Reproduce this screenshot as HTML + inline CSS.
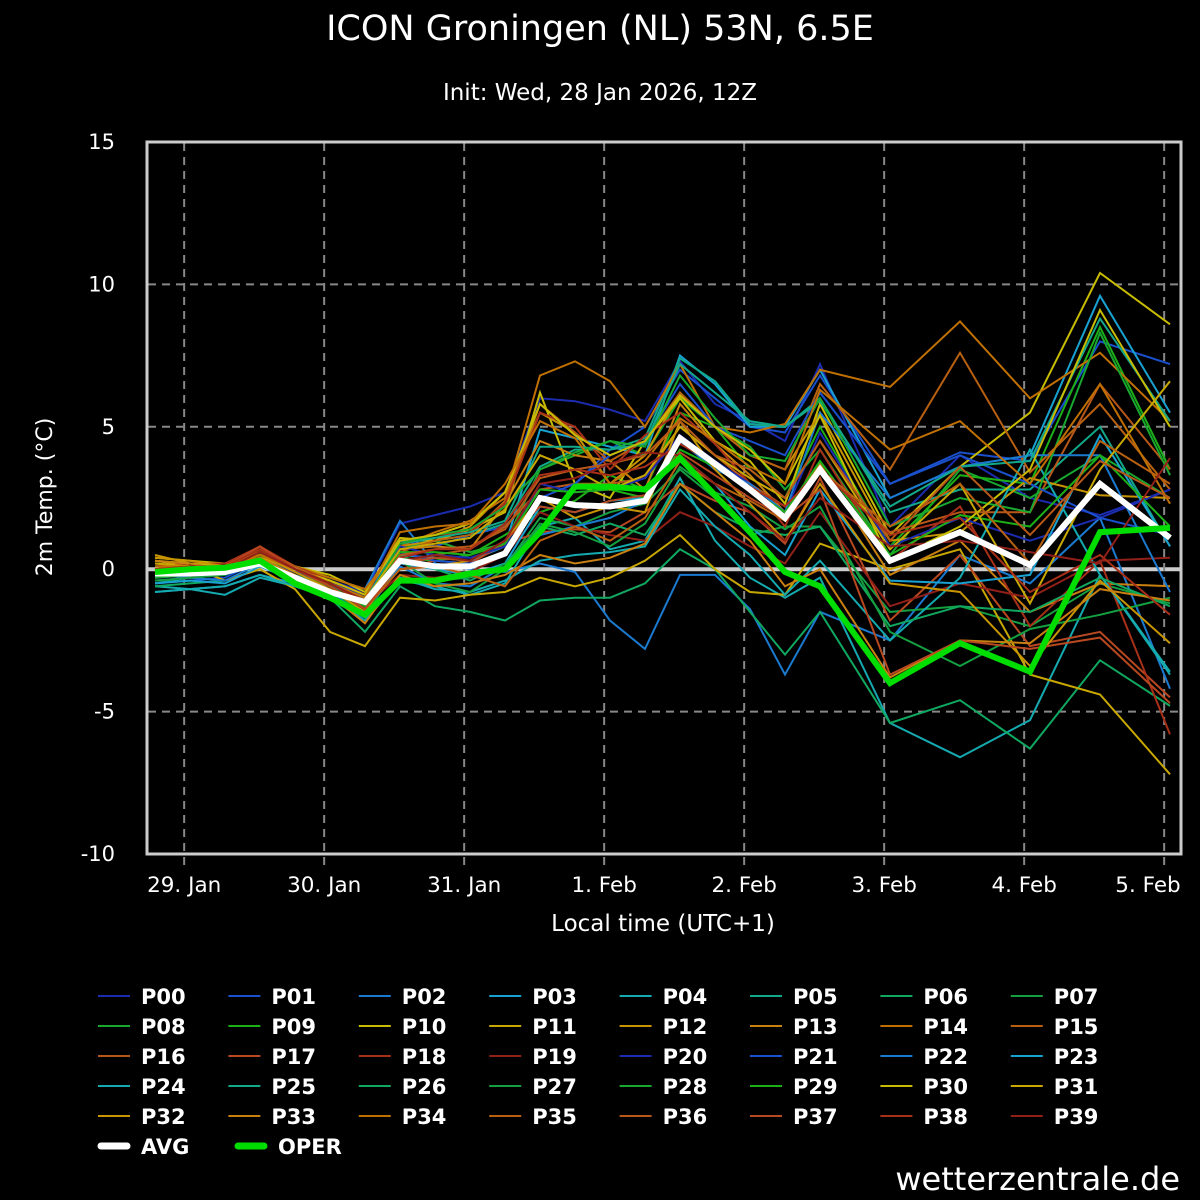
<!DOCTYPE html>
<html><head><meta charset="utf-8"><style>
html,body{margin:0;padding:0;background:#000;}
svg{display:block;font-family:"DejaVu Sans","Liberation Sans",sans-serif;}
</style></head><body>
<svg id="chart" width="1200" height="1200" viewBox="0 0 1200 1200">
<rect x="0" y="0" width="1200" height="1200" fill="#000"/>
<text x="600" y="40" fill="#fff" font-size="35" text-anchor="middle">ICON Groningen (NL) 53N, 6.5E</text>
<text x="600" y="100" fill="#fff" font-size="23" text-anchor="middle">Init: Wed, 28 Jan 2026, 12Z</text>
<text x="663" y="931" fill="#fff" font-size="23" text-anchor="middle">Local time (UTC+1)</text>
<text transform="translate(52,497) rotate(-90)" fill="#fff" font-size="22" text-anchor="middle">2m Temp. (°C)</text>
<text x="1180" y="1190" fill="#fff" font-size="32" text-anchor="end">wetterzentrale.de</text>
<g id="grid"></g>
<g id="series"></g>
<rect x="147" y="142" width="1034" height="712" fill="none" stroke="#ccc" stroke-width="3"/>
<g id="legend"></g>
</svg>
<script>
const hours=[0,6,12,18,24,30,36,42,48,54,60,66,72,78,84,90,96,102,108,114,126,138,150,162,174];
const yTicks=[15,10,5,0,-5,-10];
const xTickLabels=["29. Jan","30. Jan","31. Jan","1. Feb","2. Feb","3. Feb","4. Feb","5. Feb"];
const xTickHours=[5,29,53,77,101,125,149,173];
const avgValues=[-0.15,-0.15,-0.1,0.2,-0.3,-0.8,-1.15,0.3,0.1,0.1,0.55,2.5,2.25,2.2,2.4,4.6,3.7,2.8,1.8,3.5,0.3,1.3,0.15,3.0,1.1];
const operValues=[-0.1,0,0.05,0.3,-0.5,-1.0,-1.6,-0.4,-0.4,-0.15,0,1.3,2.9,2.9,2.8,3.9,2.6,1.3,-0.1,-0.6,-4.0,-2.6,-3.6,1.3,1.45];
const members=[
[-0.3,-0.2,-0.2,0.4,0,-0.4,-0.8,1.6,1.9,2.2,2.7,6.0,5.9,5.6,5.2,7.3,5.8,5.2,4.5,7.2,1.5,4.0,2.5,1.9,2.8],
[-0.5,-0.4,-0.3,0.3,-0.2,-0.6,-1.0,1.0,0.8,1.2,1.5,2.8,3.0,4.2,5.0,7.0,6.0,5.0,4.8,6.8,3.0,4.1,3.8,8.0,7.2],
[-0.2,-0.1,0,0.5,0.1,-0.3,-0.7,1.7,0.2,0.0,-0.1,0.2,-0.1,-1.8,-2.8,-0.2,-0.2,-1.4,-3.7,-1.5,-2.5,0.5,-0.5,1.8,-4.2],
[-0.8,-0.7,-0.6,-0.2,-0.5,-0.8,-1.5,0.5,0.4,0.3,0.8,4.9,4.6,4.3,4.0,7.5,6.5,5.0,5.0,7.0,2.5,3.6,4.0,9.6,5.5],
[-0.6,-0.7,-0.9,-0.3,-0.6,-1.0,-1.8,-0.4,-0.6,-0.9,-0.5,1.5,1.8,0.7,1.0,3.2,1.0,-0.3,-1.0,-0.3,-5.4,-6.6,-5.3,-0.2,-3.7],
[-0.5,-0.3,-0.2,0.4,0.0,-0.4,-0.9,1.0,1.0,1.2,1.6,3.6,4.2,4.2,4.6,7.4,6.6,5.1,5.0,6.0,2.0,2.8,2.8,5.0,0.8],
[-0.6,-0.5,-0.4,0.2,-0.3,-1.0,-2.2,-0.6,-1.3,-1.5,-1.8,-1.1,-1.0,-1.0,-0.5,0.7,0,-1.5,-3.0,-1.5,-5.4,-4.6,-6.3,-3.2,-4.8],
[-0.4,-0.3,-0.2,0.3,-0.3,-0.8,-1.6,-0.3,-0.4,-0.3,0.1,1.8,1.5,2.0,2.3,3.5,2.5,1.2,1.5,1.5,-1.5,-1.3,-2.0,-0.5,-1.2],
[-0.2,0,0,0.5,0,-0.5,-1.2,0.7,1.0,0.6,0.9,3.5,4.0,4.5,4.0,6.0,5.0,4.3,2.8,4.2,0.5,3.5,2.5,4.0,2.5],
[-0.3,-0.1,0,0.4,-0.1,-0.6,-1.4,0.4,0.3,0.5,1.2,2.0,2.4,3.3,2.8,5.5,5.0,3.5,2.5,5.0,0.8,3.3,3.0,8.5,3.5],
[0.4,0.3,0.2,0.5,0.1,-0.2,-0.8,1.1,1.0,1.4,2.0,6.2,3.0,2.5,4.5,6.0,4.5,3.8,2.3,5.8,1.2,3.6,5.5,10.4,8.6],
[0.3,0.1,-0.4,0.0,-0.7,-2.2,-2.7,-1.0,-1.1,-0.9,-0.8,-0.3,-0.6,-0.3,0.3,1.2,0,-0.8,-0.9,0.9,0.0,0.7,-3.7,-4.4,-7.2],
[0.5,0.2,0.1,0.5,0.0,-0.4,-1.0,0.8,1.0,1.5,2.7,5.5,4.8,3.0,4.0,6.2,5.0,4.0,3.5,5.5,1.0,1.3,3.2,2.6,2.5],
[0.0,0.2,0.2,0.6,0.0,-0.4,-0.9,0.7,0.8,0.7,2.3,4.5,4.0,3.8,2.8,5.8,4.4,3.3,2.0,3.7,-0.2,1.0,-1.5,-0.5,-0.6],
[0.2,0.1,0.1,0.6,0.1,-0.3,-0.7,0.8,1.3,1.7,2.5,6.8,7.3,6.6,5.0,7.2,5.0,4.8,5.1,7.0,6.4,8.7,6.0,7.6,5.2],
[-0.1,0.0,0.1,0.7,0.1,-0.4,-0.9,0.6,1.0,1.2,2.4,5.8,4.8,3.8,4.5,6.2,5.0,4.0,3.5,6.5,3.5,7.6,3.4,5.8,2.8],
[0.0,0.1,0.0,0.6,0.0,-0.6,-1.3,0.2,0.5,0.7,1.5,2.8,3.0,3.0,3.2,5.0,4.0,3.0,2.2,3.5,1.3,2.0,2.0,6.5,3.5],
[-0.2,-0.1,0.1,0.8,0.0,-0.5,-1.1,0.0,0.3,0.2,0.9,1.3,1.4,1.3,2.0,3.0,2.4,2.0,0.9,3.2,-1.8,0.5,-2.7,-2.2,-4.5],
[0.1,0.2,0.2,0.8,0.1,-0.4,-0.9,1.0,1.2,1.3,2.3,5.5,5.0,3.5,4.7,5.5,4.4,3.0,1.5,4.2,0.3,2.2,-2.0,0.3,-5.8],
[-0.1,-0.1,0.0,0.6,0.0,-0.6,-1.3,-0.2,-0.3,-0.1,0.5,2.0,1.5,1.2,1.0,2.0,1.5,0.8,0.2,2.0,-1.3,-0.5,-1.0,0.3,0.4],
[-0.4,-0.3,-0.2,0.3,-0.1,-0.5,-0.9,0.8,0.5,0.4,0.8,3.0,2.7,2.8,3.2,4.7,3.8,3.0,2.0,4.8,0.8,1.8,1.0,1.8,2.8],
[-0.3,-0.2,-0.1,0.4,0.0,-0.5,-1.0,0.6,0.3,0.2,0.5,2.5,3.0,4.0,4.5,6.5,5.0,4.5,4.0,6.2,3.0,4.0,3.0,1.8,1.2],
[-0.2,-0.3,-0.4,0.2,-0.3,-0.8,-1.5,0.1,-0.5,-0.6,0.1,1.2,1.5,1.8,2.4,4.5,3.5,3.0,2.0,5.5,2.5,3.6,4.0,4.0,-0.8],
[-0.5,-0.4,-0.5,0.1,-0.4,-0.9,-1.6,0.2,0.0,-0.2,0.2,2.2,2.0,2.4,2.5,4.0,3.0,1.5,0.5,2.8,-0.4,-0.5,-0.2,4.7,0.8],
[-0.8,-0.7,-0.6,-0.2,-0.6,-1.0,-1.7,-0.3,-0.7,-0.8,-0.4,0.3,0.5,0.6,0.8,2.8,1.5,0.5,-0.9,0.3,-2.5,-0.3,4.2,-0.2,-3.6],
[-0.3,-0.2,-0.1,0.4,0.0,-0.5,-1.1,0.9,1.1,1.3,1.7,4.3,4.3,4.2,4.4,7.2,6.2,5.2,5.0,5.9,2.2,3.6,3.8,8.8,5.2],
[-0.2,-0.1,0.0,0.5,0.0,-0.6,-1.4,0.5,0.0,-0.4,0.2,1.5,1.2,1.6,1.2,3.0,2.0,1.4,1.2,1.5,-2.0,-1.3,-1.5,-0.3,-1.3],
[-0.4,-0.3,-0.2,0.3,-0.2,-0.7,-1.6,0.3,-0.5,-0.8,0.0,1.6,1.3,0.8,1.6,3.6,2.7,2.2,1.4,2.2,-2.2,-3.4,-2.1,-1.6,-1.0],
[-0.3,-0.2,0.0,0.5,0.0,-0.5,-1.2,0.9,1.2,1.4,2.2,3.5,4.1,4.5,4.3,6.8,5.3,4.0,3.8,6.0,1.5,2.5,2.0,8.3,3.3],
[-0.2,-0.1,0.0,0.5,0.0,-0.6,-1.3,0.6,0.6,0.5,0.9,2.8,2.7,2.8,2.5,4.2,3.6,2.8,2.0,3.8,0.5,1.9,1.5,4.0,1.5],
[0.3,0.2,0.1,0.5,0.0,-0.4,-0.9,1.0,1.2,1.6,2.7,5.8,4.7,4.0,4.5,6.1,5.0,4.2,3.0,5.4,0.3,1.5,3.5,9.1,5.0],
[0.2,0.1,0.0,0.4,0.0,-0.5,-1.1,0.7,0.9,1.1,2.1,4.0,3.5,2.8,3.3,5.0,4.0,3.2,2.5,4.5,0.7,3.0,-1.2,3.5,6.6],
[0.4,0.3,0.1,0.5,-0.1,-0.7,-1.5,0.3,0.1,0.3,1.0,2.5,1.8,2.2,2.0,5.2,3.5,2.3,1.0,3.0,-0.5,-0.8,-3.4,-0.4,-2.6],
[0.3,0.2,0.0,0.4,-0.2,-0.9,-1.9,-0.2,-0.6,-0.5,-0.2,0.5,0.2,0.4,0.9,3.0,2.0,1.0,-0.6,0.0,-3.8,-2.5,-2.6,-0.7,-1.1],
[0.1,0.1,0.0,0.5,0.0,-0.5,-1.0,1.3,1.5,1.6,3.0,5.2,4.6,3.0,3.8,5.3,4.5,3.6,3.0,6.3,4.2,5.2,3.0,6.5,2.3],
[0.0,0.0,0.1,0.6,0.0,-0.6,-1.4,0.0,0.1,-0.2,-0.6,1.0,1.5,1.0,1.8,3.8,3.0,2.4,1.7,3.5,1.5,3.0,0.2,4.5,3.0],
[0.0,0.1,0.1,0.7,0.1,-0.5,-1.2,0.5,0.7,0.8,1.4,3.2,3.5,3.7,4.0,5.2,4.0,3.5,2.5,4.5,1.0,3.6,1.2,3.8,2.5],
[-0.1,0.0,0.1,0.8,0.0,-0.6,-1.4,0.2,0.4,0.3,1.0,2.2,2.0,2.4,2.6,4.1,3.3,2.5,1.8,2.8,-3.7,-2.5,-2.8,-2.4,-4.7],
[0.0,0.1,0.1,0.7,0.0,-0.5,-1.2,0.4,0.7,0.7,1.6,3.3,3.5,3.3,3.6,4.4,3.7,2.9,2.2,3.5,1.2,1.8,-0.8,0.5,-1.6],
[-0.1,0.0,0.0,0.6,0.0,-0.5,-1.1,0.3,0.5,0.3,1.0,3.0,3.2,3.7,4.1,4.0,3.0,2.0,1.0,2.5,0.8,1.0,0.6,0.2,3.9]
];
const palette=["#1b2cb0","#1a50cc","#1a7ad0","#18a2d2","#14aab0","#12a88a","#10a860","#14a040","#18a830","#1cb018","#c8bc00","#c8a800","#c89400","#c88010","#c07000","#b86010","#b85818","#b84820","#a83018","#902018"];
const NS="http://www.w3.org/2000/svg";
function xs(h){return 155+h*35/6;}
function ys(v){return 569.2-v*28.48;}
function mk(tag,attrs,parent){const e=document.createElementNS(NS,tag);for(const k in attrs)e.setAttribute(k,attrs[k]);parent.appendChild(e);return e;}
const grid=document.getElementById('grid');
yTicks.forEach(function(t){
  const y=ys(t);
  if(t!==15&&t!==-10){
    const l=mk('line',{x1:148,x2:1180,y1:y,y2:y,stroke:t===0?'#ccc':'#888','stroke-width':t===0?4:2,'stroke-dasharray':t===0?'none':'8,6'},grid);
    
    
  }
  const tx=mk('text',{x:115,y:y+7,fill:'#fff','font-size':21,'text-anchor':'end'},grid);
  tx.textContent=String(t);
  
  
});
xTickHours.forEach(function(h,i){
  const x=xs(h);
  const l=mk('line',{x1:x,x2:x,y1:143,y2:868,stroke:'#888','stroke-width':2,'stroke-dasharray':'8,6'},grid);
  
  
  const lx=Math.min(x,1148);
  const tx=mk('text',{x:lx,y:892,fill:'#fff','font-size':21.5,'text-anchor':'middle'},grid);
  tx.textContent=xTickLabels[i];
  
  
});
const series=document.getElementById('series');
function pts(vals){return vals.map(function(v,i){return xs(hours[i]).toFixed(1)+','+ys(v).toFixed(1);}).join(' ');}
members.forEach(function(vals,i){
  const p=mk('polyline',{points:pts(vals),fill:'none',stroke:palette[i%20],'stroke-width':2,'stroke-linejoin':'miter'},series);
  
  
});
const avg=mk('polyline',{points:pts(avgValues),fill:'none',stroke:'#fff','stroke-width':6},series);


const oper=mk('polyline',{points:pts(operValues),fill:'none',stroke:'#00dd00','stroke-width':6},series);


const legend=document.getElementById('legend');
for(let i=0;i<40;i++){
  const col=i%8,row=Math.floor(i/8);
  const x=98+col*130.4,y=996+row*30;
  const g=mk('g',{},legend);
  
  
  mk('line',{x1:x,x2:x+32,y1:y,y2:y,stroke:palette[i%20],'stroke-width':2},g);
  const t=mk('text',{x:x+43,y:y+8,fill:'#fff','font-size':21,'font-weight':'bold'},g);
  t.textContent='P'+String(i).padStart(2,'0');
}
[['AVG','#fff'],['OPER','#00dd00']].forEach(function(e,i){
  const x=98+i*137,y=1146;
  const g=mk('g',{},legend);
  
  
  mk('line',{x1:x+3,x2:x+29,y1:y,y2:y,stroke:e[1],'stroke-width':7,'stroke-linecap':'round'},g);
  const t=mk('text',{x:x+43,y:y+8,fill:'#fff','font-size':21,'font-weight':'bold'},g);
  t.textContent=e[0];
});
</script>
</body></html>
